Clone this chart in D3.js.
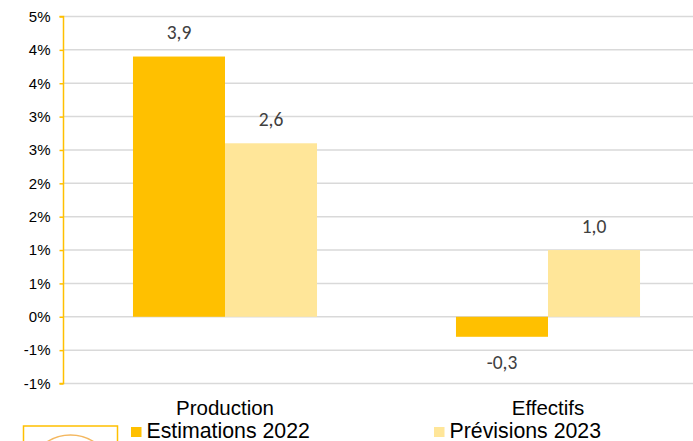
<!DOCTYPE html>
<html>
<head>
<meta charset="utf-8">
<script src="https://cdn.jsdelivr.net/npm/d3@7"></script>
<style>
  html, body { margin: 0; padding: 0; background: #fff; }
  svg { display: block; font-family: "Liberation Sans", Arial, sans-serif; }
</style>
</head>
<body>
<svg id="chart" width="693" height="441"></svg>
<script>
// Categories, series and axis ticks
const categories = ["Production", "Effectifs"];
const seriesNames = ["Estimations 2022", "Prévisions 2023"];
const estimations2022 = [3.9, -0.3];
const previsions2023 = [2.6, 1.0];
const yTicks = [-1, -0.5, 0, 0.5, 1, 1.5, 2, 2.5, 3, 3.5, 4, 4.5];
const colors = ["#FFC000", "#FFE699"];

const svg = d3.select("#chart");
const plot = { left: 63.5, right: 709.5, top: 16.5, bottom: 383.5 };

const x = d3.scaleBand().domain(categories).range([plot.left, plot.right]).paddingInner(0).paddingOuter(0);
const inner = d3.scaleBand().domain(seriesNames).range([0, x.bandwidth()]).paddingInner(0).paddingOuter(0.755);
const y = d3.scaleLinear().domain([-1, 4.5]).range([plot.bottom, plot.top]);

// Percent label rounded half away from zero, no decimals
const pct = v => {
  const r = Math.sign(v) * Math.round(Math.abs(v));
  return (r === 0 ? 0 : r) + "%";
};

// Horizontal gridlines
svg.append("g").selectAll("line").data(yTicks).join("line")
  .attr("x1", plot.left).attr("x2", plot.right)
  .attr("y1", d => y(d)).attr("y2", d => y(d))
  .attr("stroke", "#D9D9D9").attr("stroke-width", 1.5);

// Bars
const series = [estimations2022, previsions2023];
const groups = svg.append("g").selectAll("g").data(series).join("g")
  .attr("fill", (d, i) => colors[i]);
groups.each(function(vals, si) {
  d3.select(this).selectAll("rect").data(vals).join("rect")
    .attr("x", (v, ci) => x(categories[ci]) + inner(seriesNames[si]))
    .attr("width", inner.bandwidth())
    .attr("y", v => y(Math.max(0, v)))
    .attr("height", v => Math.abs(y(v) - y(0)));
});

// Value labels
const fmt = v => d3.format(".1f")(v).replace(".", ",").replace("−", "-");
groups.each(function(vals, si) {
  d3.select(this).selectAll("text").data(vals).join("text")
    .attr("x", (v, ci) => x(categories[ci]) + inner(seriesNames[si]) + inner.bandwidth() / 2)
    .attr("y", v => v >= 0 ? y(v) - 17.5 : y(v) + 32)
    .attr("text-anchor", "middle")
    .attr("fill", "#404040")
    .attr("font-family", "Carlito, Lato, sans-serif")
    .attr("font-size", 19.5)
    .text(fmt);
});

// Y axis
const yAxis = d3.axisLeft(y).tickValues(yTicks).tickSize(4).tickPadding(9).tickFormat(pct);
const ga = svg.append("g").attr("transform", `translate(${plot.left},0)`).call(yAxis);
ga.select(".domain").attr("stroke", "#FFC000").attr("stroke-width", 1.5)
  .attr("d", `M-4,${plot.top}H0V${plot.bottom}H-4`);
ga.selectAll(".tick line").attr("stroke", "#FFC000").attr("stroke-width", 1.5);
ga.selectAll(".tick text").attr("font-size", 15).attr("fill", "#000")
  .attr("font-family", "'Liberation Sans', Arial, sans-serif");

// Category labels
svg.append("g").selectAll("text").data(categories).join("text")
  .attr("x", d => x(d) + x.bandwidth() / 2)
  .attr("y", 414.5)
  .attr("text-anchor", "middle")
  .attr("font-size", 20.5)
  .attr("fill", "#000")
  .text(d => d);

// Logo frame at bottom left
svg.append("rect").attr("x", 23.5).attr("y", 426).attr("width", 94).attr("height", 30)
  .attr("fill", "none").attr("stroke", "#FFC000").attr("stroke-width", 1.5);
svg.append("circle").attr("cx", 70.5).attr("cy", 478).attr("r", 43)
  .attr("fill", "none").attr("stroke", "#F4B860").attr("stroke-width", 1.5);

// Legend
const legendX = [131, 434];
const lg = svg.append("g").selectAll("g").data(seriesNames).join("g")
  .attr("transform", (d, i) => `translate(${legendX[i]},0)`);
lg.append("rect").attr("x", 0).attr("y", 427).attr("width", 10.5).attr("height", 10)
  .attr("fill", (d, i) => colors[i]);
lg.append("text").attr("x", 15.5).attr("y", 438).attr("font-size", 21.3).attr("fill", "#000")
  .text(d => d);
</script>
</body>
</html>
